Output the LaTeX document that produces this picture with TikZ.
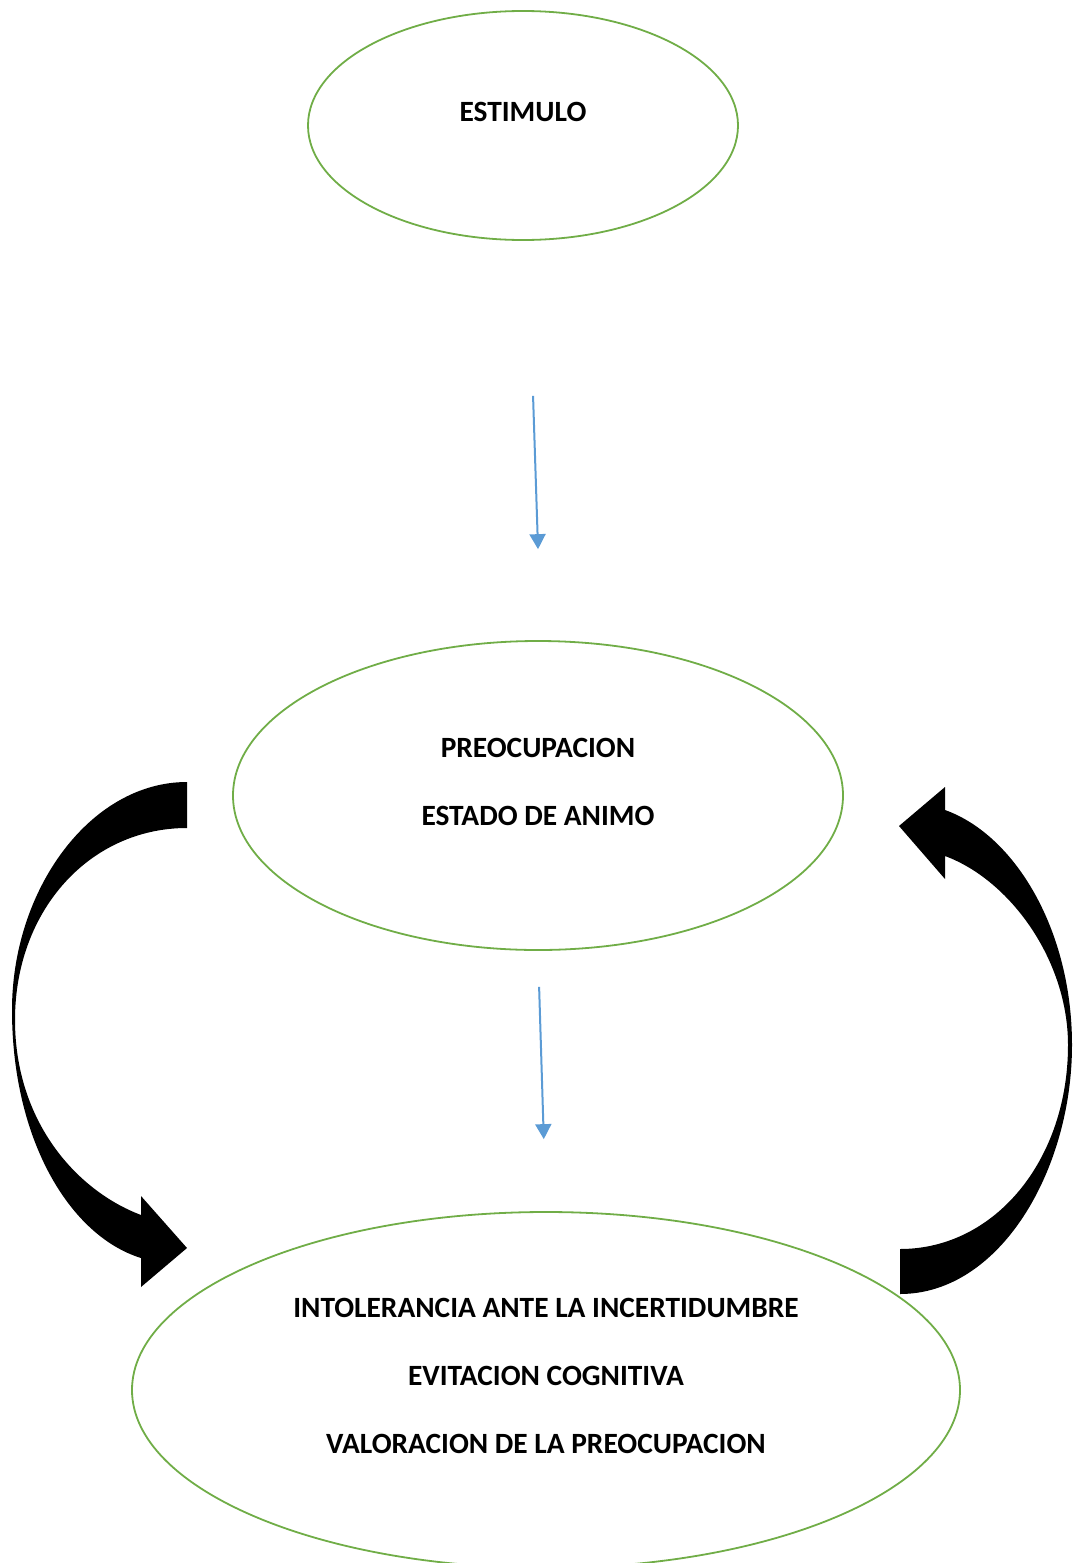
\documentclass[tikz,border=0pt]{standalone}
\usepackage{fontspec}
\setmainfont{Carlito}
\usetikzlibrary{shapes.geometric}
\usetikzlibrary{arrows.meta}
\definecolor{leafgreen}{HTML}{70AD47}
\definecolor{skyblue}{HTML}{5B9BD5}
\begin{document}
\begin{tikzpicture}[x=0.5pt,y=-0.5pt,
    bubble/.style={ellipse,draw=leafgreen,line width=0.9pt,inner sep=0pt},
    caption/.style={font=\bfseries\fontsize{14.7}{34}\selectfont,align=center,inner sep=0pt},
    flow/.style={draw=skyblue,line width=1pt,-{Triangle[width=8pt,length=7.5pt]}},
    bigarrow/.style={fill=black,draw=none}]
    \clip (0,0) rectangle (1072,1563);
    \useasboundingbox (0,0) rectangle (1072,1563);
    % ellipses
    \node[bubble,minimum width=215pt,minimum height=114.5pt] (estimulo) at (523,125.5) {};
    \node[bubble,minimum width=305pt,minimum height=154.5pt] (preocupacion) at (538,795.5) {};
    \node[bubble,minimum width=414pt,minimum height=178pt] (intolerancia) at (546,1390) {};
    \node[caption] (estimulotxt) at ([yshift=7pt]estimulo.center) {ESTIMULO};
    \node[caption] (preocupaciontxt) at ([yshift=7pt]preocupacion.center) {PREOCUPACION\\ESTADO DE ANIMO};
    \node[caption] (intoleranciatxt) at ([yshift=7pt]intolerancia.center)
        {INTOLERANCIA ANTE LA INCERTIDUMBRE\\EVITACION COGNITIVA\\VALORACION DE LA PREOCUPACION};
    % thin arrows
    \draw[flow,shorten <=77.5pt,shorten >=45.5pt] ([xshift=2.5pt]estimulo.south) -- ([xshift=1.5pt]preocupacion.north);
    \draw[flow,shorten <=18pt,shorten >=36pt] (preocupacion.south) -- (intolerancia.north);
    % curved arrow, left side
    \fill[bigarrow] (187,782) .. controls (90,782) and (12,890) .. (12,1010)
        .. controls (12,1140) and (70,1236) .. (141,1258)
        -- (141,1287) -- (187,1248) -- (141,1196) -- (141,1215)
        .. controls (75,1190) and (15,1120) .. (15,1020)
        .. controls (15,910) and (90,828) .. (187,828) -- cycle;
    % curved arrow, right side
    \fill[bigarrow] (900,1294) .. controls (1000,1294) and (1072,1170) .. (1072,1045)
        .. controls (1072,930) and (1015,835) .. (945,810)
        -- (945,787) -- (899,826) -- (945,879) -- (945,856)
        .. controls (1010,880) and (1068,960) .. (1068,1045)
        .. controls (1068,1160) and (995,1249) .. (900,1249) -- cycle;
\end{tikzpicture}
\end{document}
